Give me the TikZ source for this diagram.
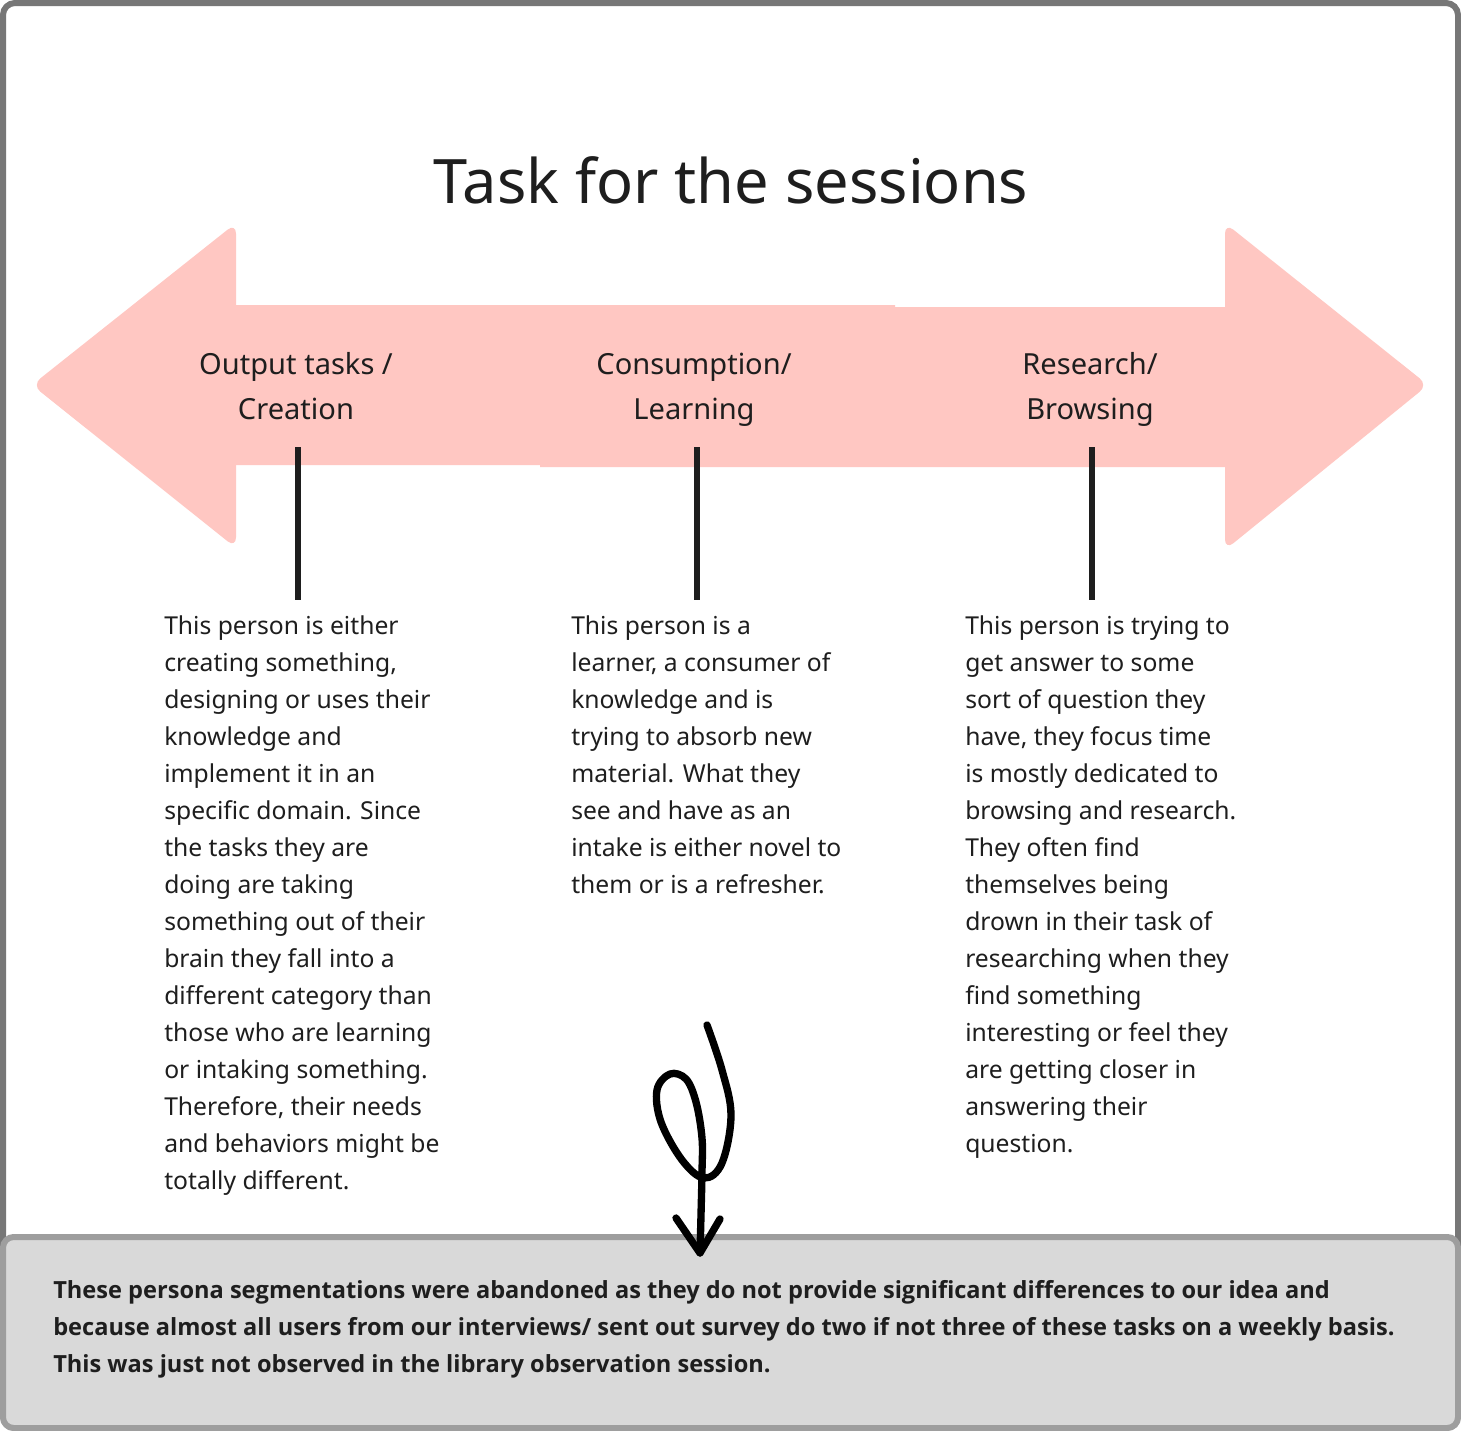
\documentclass[tikz,border=0pt]{standalone}
\usepackage{fontspec}
\setmainfont{Noto Sans}
% bold face for the closing note
\IfFontExistsTF{Open Sans Bold}
  {\newfontfamily\notefont{Open Sans Bold}\def\notesize{17.7}}
  {\IfFontExistsTF{OpenSans-Bold.ttf}
     {\newfontfamily\notefont{OpenSans-Bold.ttf}\def\notesize{17.7}}
     {\newfontfamily\notefont{Noto Sans}[FakeBold=3]\def\notesize{18.8}}}
\definecolor{ink}{HTML}{1E1E1E}
\definecolor{band}{HTML}{FFC7C2}
\definecolor{frame}{HTML}{777777}
\definecolor{notefill}{HTML}{D9D9D9}
\definecolor{noteedge}{HTML}{9E9E9E}
\begin{document}
\begin{tikzpicture}[x=0.75pt,y=-0.75pt,
  body/.style={font=\fontsize{18.5}{27.75}\selectfont, align=left, inner sep=0pt, text=ink, anchor=north west},
  label/.style={font=\fontsize{21.8}{33.75}\selectfont, align=center, inner sep=0pt, text=ink},
  stem/.style={draw=ink, line width=3.8pt},
  note/.style={font=\notefont\fontsize{\notesize}{27.75}\selectfont, align=left, inner sep=0pt, text=ink, anchor=north west}]
\useasboundingbox (0,0) rectangle (1461,1431);
\fill[white] (0,0) rectangle (1461,1431);

% outer frame
\draw[frame, line width=4.5pt, rounded corners=9pt] (3,3) rectangle (1458,1428);

% title
\node[font=\fontsize{46}{50}\selectfont, text=ink, inner sep=0pt] (title) at (731,180) {Task for the sessions};

% double-headed band
\fill[band, rounded corners=8pt] (236,223) -- (32,385) -- (236,548) -- cycle;
\fill[band, rounded corners=8pt] (1225,223) -- (1428,385) -- (1225,550) -- cycle;
\fill[band] (232,305) -- (895,305) -- (895,307) -- (1229,307) -- (1229,467)
            -- (540,467) -- (540,465) -- (232,465) -- cycle;

% category labels
\node[label] (l1) at (296,388) {\strut Output tasks /\\\strut Creation};
\node[label] (l2) at (694,388) {\strut Consumption/\\\strut Learning};
\node[label] (l3) at (1090,388) {\strut Research/\\\strut Browsing};

% stems
\coordinate (s1) at (298,447); \coordinate (e1) at (298,600);
\coordinate (s2) at (697,447); \coordinate (e2) at (697,600);
\coordinate (s3) at (1092,447); \coordinate (e3) at (1092,600);
\draw[stem] (s1) -- (e1);
\draw[stem] (s2) -- (e2);
\draw[stem] (s3) -- (e3);

% descriptions
\node[body] (d1) at (164,615) {This person is either\\creating something,\\designing or uses their\\knowledge and\\implement it in an\\specific domain. Since\\the tasks they are\\doing are taking\\something out of their\\brain they fall into a\\different category than\\those who are learning\\or intaking something.\\Therefore, their needs\\and behaviors might be\\totally different.};
\node[body] (d2) at (571,615) {This person is a\\learner, a consumer of\\knowledge and is\\trying to absorb new\\material. What they\\see and have as an\\intake is either novel to\\them or is a refresher.};
\node[body] (d3) at (965,615) {This person is trying to\\get answer to some\\sort of question they\\have, they focus time\\is mostly dedicated to\\browsing and research.\\They often find\\themselves being\\drown in their task of\\researching when they\\find something\\interesting or feel they\\are getting closer in\\answering their\\question.};

% conclusion box
\draw[noteedge, fill=notefill, line width=4.5pt, rounded corners=8pt] (3,1237) rectangle (1458,1428);
\node[note] (n) at (53,1280) {These persona segmentations were abandoned as they do not provide significant differences to our idea and\\because almost all users from our interviews/ sent out survey do two if not three of these tasks on a weekly basis.\\This was just not observed in the library observation session.};

% hand-drawn curly arrow
\coordinate (cs) at (707,1025);
\coordinate (ce) at (700,1253);
\draw[black, line width=5.5pt, line cap=round, line join=round]
  plot[smooth, tension=0.6] coordinates {(cs) (722,1070) (731,1115) (722,1163) (704,1178) (682,1160) (661,1122) (657,1090) (670,1074) (686,1079) (696,1102) (702,1138) (702,1172) (701,1215) (ce)};
\draw[black, line width=5.5pt, line cap=round, line join=round] (676,1218) -- (ce) -- (720,1219);
\end{tikzpicture}
\end{document}
